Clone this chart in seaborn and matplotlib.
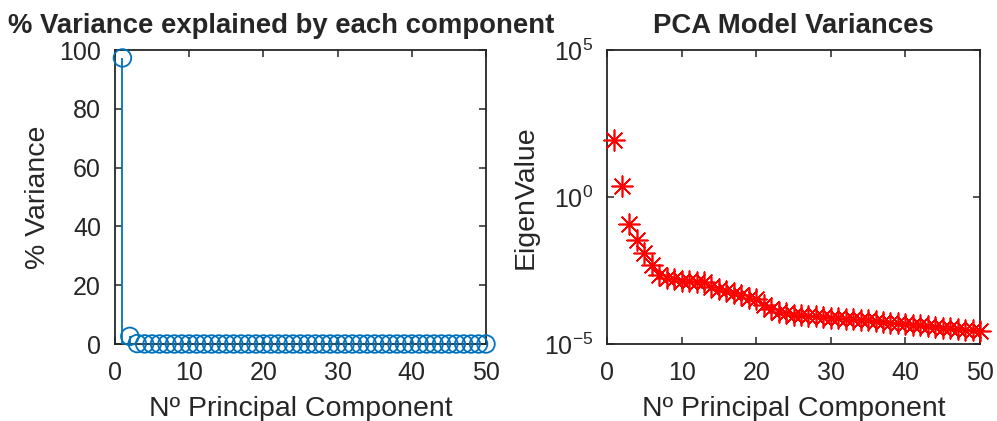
import numpy as np
import pandas as pd
import matplotlib
matplotlib.use("Agg")
import matplotlib.pyplot as plt
import seaborn as sns

# ==========================================================
# DATA
# ==========================================================

components = list(range(1, 51))

pct_variance = [97.3, 2.6, 0.14, 0.04, 0.015, 0.006, 0.003, 0.002, 0.002, 0.002,
                0.0015, 0.0014, 0.0014, 0.001, 0.0008, 0.0007, 0.0006, 0.0005, 0.0004, 0.0004,
                0.0002, 0.00015, 0.00014, 0.00012, 0.0001, 0.0001, 0.0001, 0.0001, 0.0001, 0.0001,
                0.0001, 0.0001, 0.0001, 0.0001, 0.0001, 0.0001, 0.0001, 0.0001, 0.0001, 0.0001,
                0.0001, 0.0001, 0.0001, 0.0001, 0.0001, 0.0001, 0.0001, 0.0001, 0.0001, 0.0001]

# log10 of eigenvalues
log_eig = [1.94, 0.37, -0.92, -1.46, -1.90, -2.30, -2.67, -2.76, -2.80, -2.85,
           -2.87, -2.89, -2.90, -3.05, -3.13, -3.20, -3.28, -3.34, -3.42, -3.48,
           -3.68, -3.82, -3.90, -3.96, -4.00, -4.02, -4.05, -4.06, -4.09, -4.10,
           -4.12, -4.14, -4.15, -4.18, -4.20, -4.22, -4.25, -4.27, -4.30, -4.32,
           -4.35, -4.37, -4.40, -4.42, -4.44, -4.47, -4.49, -4.51, -4.54, -4.56]
eigenvalues = [10 ** v for v in log_eig]

x_ticks = [0, 10, 20, 30, 40, 50]
pct_ticks = [0, 20, 40, 60, 80, 100]
eig_ticks = [1e-5, 1e0, 1e5]
eig_tick_labels = [r"$10^{-5}$", r"$10^{0}$", r"$10^{5}$"]

df = pd.DataFrame({"comp": components, "pct": pct_variance, "eig": eigenvalues})

# ==========================================================
# STYLE
# ==========================================================

sns.set_style("ticks")
plt.rcParams["font.family"] = ["Liberation Sans", "DejaVu Sans"]
plt.rcParams["mathtext.fontset"] = "custom"
plt.rcParams["mathtext.rm"] = "Liberation Sans"
plt.rcParams["mathtext.default"] = "regular"
plt.rcParams["axes.unicode_minus"] = False

AX_COLOR = "#262626"
BLUE = "#0072BD"

fig = plt.figure(figsize=(9.97, 4.21), dpi=100)
W, H = 997, 421
ax1 = fig.add_axes([115 / W, (H - 344) / H, 371 / W, 294 / H])
ax2 = fig.add_axes([607 / W, (H - 344) / H, 373 / W, 294 / H])


def style_axes(ax):
    for s in ax.spines.values():
        s.set_visible(True)
        s.set_color(AX_COLOR)
        s.set_linewidth(1.3)
    ax.tick_params(direction="in", length=5, width=1.1, colors=AX_COLOR,
                   labelsize=18, top=True, right=True)
    ax.tick_params(axis="y", pad=10)
    ax.tick_params(axis="x", pad=12)
    ax.tick_params(which="minor", length=0)


# ==========================================================
# LEFT: stem plot of % variance
# ==========================================================

ax1.vlines(df["comp"], 0, df["pct"], color=BLUE, linewidth=1.3, zorder=3)
sns.scatterplot(data=df, x="comp", y="pct", ax=ax1, marker="o", s=160,
                facecolor="none", edgecolor=BLUE, linewidth=1.3, zorder=4,
                clip_on=False, legend=False)
ax1.set_xlim(0, 50)
ax1.set_ylim(0, 100)
ax1.set_xticks(x_ticks)
ax1.set_yticks(pct_ticks)
ax1.set_xlabel("Nº Principal Component", fontsize=20.5, color=AX_COLOR, labelpad=8)
ax1.set_ylabel("% Variance", fontsize=20.5, color=AX_COLOR, labelpad=6)
ax1.set_title("% Variance explained by each component", fontsize=19.8,
              fontweight="bold", x=0.447, pad=12)
style_axes(ax1)

# ==========================================================
# RIGHT: eigenvalues on log scale
# ==========================================================

sns.scatterplot(data=df, x="comp", y="eig", ax=ax2, marker=(8, 2, 0), s=220,
                color="red", linewidth=1.2, zorder=4, clip_on=False, legend=False)
ax2.set_yscale("log")
ax2.set_xlim(0, 50)
ax2.set_ylim(1e-5, 1e5)
ax2.set_xticks(x_ticks)
ax2.set_yticks(eig_ticks)
ax2.set_yticklabels(eig_tick_labels)
ax2.set_xlabel("Nº Principal Component", fontsize=20.5, color=AX_COLOR, labelpad=8)
ax2.set_ylabel("EigenValue", fontsize=20.5, color=AX_COLOR, labelpad=4)
ax2.set_title("PCA Model Variances", fontsize=19.8, fontweight="bold", pad=12)
style_axes(ax2)

fig.savefig("out.png", dpi=100)
